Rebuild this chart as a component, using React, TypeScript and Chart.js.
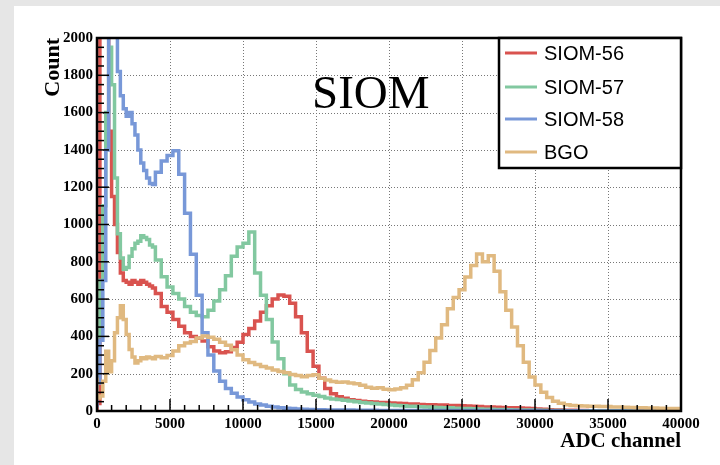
import React, { useEffect, useRef } from 'react';
import { Chart, registerables } from 'chart.js';

Chart.register(...registerables);

// ---- axis / binning ----
const X_MIN = 0;
const X_MAX = 40000;
const Y_MIN = 0;
const Y_MAX = 2000;
const X_MAJOR_STEP = 5000;
const X_MINOR_STEP = 1000;
const Y_MAJOR_STEP = 200;
const Y_MINOR_STEP = 50;
const FINE_BIN_WIDTH = 200; // 0 .. 4000
const FINE_RANGE_END = 4000;
const COARSE_BIN_WIDTH = 400; // 4000 .. 40000

const SERIES_NAMES = ['SIOM-56', 'SIOM-57', 'SIOM-58', 'BGO'];
const SERIES_COLORS = ['#d9534f', '#82c8a0', '#7898d8', '#e0b980'];

// ---- histogram contents (counts per bin) ----
// fine bins: 0-200, 200-400, ..., 3800-4000
const siom56Fine = [0, 40, 3000, 8000, 4000, 1500, 1150, 1000, 850, 740, 700, 690, 680, 700, 690, 680, 700, 690, 680, 670];
const siom57Fine = [150, 400, 700, 1100, 1600, 1950, 1750, 1250, 950, 820, 760, 770, 830, 870, 900, 910, 940, 930, 920, 890];
const siom58Fine = [20, 150, 380, 700, 1400, 2400, 2600, 2050, 1820, 1690, 1620, 1580, 1600, 1540, 1480, 1400, 1330, 1290, 1250, 1220];
const bgoFine = [180, 70, 80, 160, 320, 210, 270, 420, 500, 565, 490, 410, 330, 290, 258, 270, 285, 280, 290, 285];

// coarse bins: 4000-4400, 4400-4800, ..., 39600-40000
const siom56Coarse = [
  660, 630, 560, 530, 490, 455, 420, 400, 390, 375,
  345, 322, 312, 318, 340, 368, 410, 442, 482, 530,
  565, 600, 622, 615, 578, 505, 420, 320, 240, 175,
  120, 92, 76, 68, 60, 56, 52, 50, 48, 46,
  45, 43, 41, 40, 38, 37, 35, 34, 34, 32,
  32, 30, 29, 28, 27, 25, 24, 22, 21, 20,
  19, 18, 17, 16, 15, 13, 11, 9, 7, 6,
  5, 4, 4, 3, 3, 2, 2, 2, 2, 1,
  1, 1, 1, 1, 1, 1, 1, 1, 1, 1,
];
const siom57Coarse = [
  880, 810, 720, 665, 630, 600, 560, 530, 512, 505,
  540, 590, 650, 725, 830, 880, 900, 960, 740, 620,
  490, 370, 280, 200, 140, 115, 102, 92, 85, 78,
  70, 65, 62, 58, 54, 50, 46, 43, 40, 38,
  35, 32, 30, 28, 26, 25, 23, 22, 20, 19,
  18, 17, 15, 14, 13, 12, 11, 10, 9, 8,
  8, 7, 6, 6, 5, 5, 4, 4, 3, 3,
  3, 2, 2, 2, 2, 1, 1, 1, 1, 1,
  1, 1, 1, 0, 0, 0, 0, 0, 0, 0,
];
const siom58Coarse = [
  1215, 1280, 1340, 1370, 1395, 1270, 1060, 840, 620, 420,
  300, 215, 160, 120, 95, 75, 60, 48, 38, 32,
  26, 22, 18, 15, 13, 11, 9, 8, 7, 7,
  6, 6, 5, 5, 5, 4, 4, 4, 4, 3,
  3, 3, 3, 3, 3, 3, 3, 3, 3, 3,
  3, 3, 3, 3, 3, 3, 3, 3, 3, 3,
  3, 3, 3, 3, 2, 3, 3, 2, 2, 2,
  2, 1, 1, 1, 0, 0, 0, 0, 0, 0,
  0, 0, 0, 0, 0, 0, 0, 0, 0, 0,
];
const bgoCoarse = [
  280, 292, 285, 298, 322, 350, 365, 372, 392, 402,
  395, 385, 368, 352, 328, 300, 275, 260, 250, 238,
  230, 220, 212, 205, 196, 190, 184, 190, 195, 176,
  166, 158, 154, 155, 150, 146, 138, 127, 122, 124,
  117, 114, 118, 124, 138, 168, 205, 262, 325, 392,
  462, 548, 608, 650, 718, 780, 842, 800, 832, 750,
  640, 540, 450, 350, 262, 182, 140, 100, 72, 52,
  42, 34, 30, 28, 27, 26, 25, 24, 24, 22,
  21, 20, 19, 18, 17, 16, 16, 15, 14, 13,
];

const SERIES_VALUES = [
  [...siom56Fine, ...siom56Coarse],
  [...siom57Fine, ...siom57Coarse],
  [...siom58Fine, ...siom58Coarse],
  [...bgoFine, ...bgoCoarse],
];

const binStarts: number[] = [];
for (let x = X_MIN; x < FINE_RANGE_END; x += FINE_BIN_WIDTH) binStarts.push(x);
for (let x = FINE_RANGE_END; x < X_MAX; x += COARSE_BIN_WIDTH) binStarts.push(x);

function toSteps(values: number[]) {
  const pts = binStarts.map((x, i) => ({ x, y: values[i] }));
  pts.push({ x: X_MAX, y: values[values.length - 1] });
  return pts;
}

const SERIF = '"Liberation Serif", "Times New Roman", serif';
const SANS = '"Liberation Sans", Arial, sans-serif';

const decorPlugin = {
  id: 'rootDecor',
  beforeDatasetsDraw(chart: any) {
    const { ctx, chartArea, scales } = chart;
    const { left, right, top, bottom } = chartArea;
    ctx.save();
    ctx.strokeStyle = '#777';
    ctx.lineWidth = 1;
    ctx.setLineDash([1, 2]);
    for (let v = X_MIN + X_MAJOR_STEP; v < X_MAX; v += X_MAJOR_STEP) {
      const px = Math.round(scales.x.getPixelForValue(v)) + 0.5;
      ctx.beginPath();
      ctx.moveTo(px, top);
      ctx.lineTo(px, bottom);
      ctx.stroke();
    }
    for (let v = Y_MIN + Y_MAJOR_STEP; v < Y_MAX; v += Y_MAJOR_STEP) {
      const py = Math.round(scales.y.getPixelForValue(v)) + 0.5;
      ctx.beginPath();
      ctx.moveTo(left, py);
      ctx.lineTo(right, py);
      ctx.stroke();
    }
    ctx.restore();
  },
  afterDatasetsDraw(chart: any) {
    const { ctx, chartArea, scales } = chart;
    const { left, right, top, bottom } = chartArea;
    ctx.save();
    // inner ticks
    ctx.strokeStyle = '#000';
    ctx.lineWidth = 1.5;
    for (let v = X_MIN; v <= X_MAX; v += X_MINOR_STEP) {
      const px = scales.x.getPixelForValue(v);
      const len = v % X_MAJOR_STEP === 0 ? 12 : 6;
      ctx.beginPath();
      ctx.moveTo(px, bottom);
      ctx.lineTo(px, bottom - len);
      ctx.stroke();
    }
    for (let v = Y_MIN; v <= Y_MAX; v += Y_MINOR_STEP) {
      const py = scales.y.getPixelForValue(v);
      const len = v % Y_MAJOR_STEP === 0 ? 12 : 7;
      ctx.beginPath();
      ctx.moveTo(left, py);
      ctx.lineTo(left + len, py);
      ctx.stroke();
    }
    // frame
    ctx.lineWidth = 2.5;
    ctx.strokeRect(left, top, right - left, bottom - top);

    // big label
    ctx.fillStyle = '#000';
    ctx.font = `47px ${SERIF}`;
    ctx.textBaseline = 'alphabetic';
    ctx.textAlign = 'left';
    ctx.fillText('SIOM', 298, 102);

    // legend
    const lx = 485, ly = top, lw = right - 485, lh = 130;
    ctx.fillStyle = '#fff';
    ctx.fillRect(lx, ly, lw, lh);
    ctx.strokeStyle = '#000';
    ctx.lineWidth = 2.5;
    ctx.strokeRect(lx, ly, lw, lh);
    const rows = [47, 81, 113, 146];
    ctx.font = `20px ${SANS}`;
    ctx.textBaseline = 'middle';
    SERIES_NAMES.forEach((name, i) => {
      ctx.strokeStyle = SERIES_COLORS[i];
      ctx.lineWidth = 3;
      ctx.beginPath();
      ctx.moveTo(491, rows[i]);
      ctx.lineTo(523, rows[i]);
      ctx.stroke();
      ctx.fillStyle = '#000';
      ctx.fillText(name, 530, rows[i] + 1);
    });
    ctx.restore();
  },
};

export default function App() {
  const ref = useRef<HTMLCanvasElement>(null);
  useEffect(() => {
    const canvas = ref.current;
    if (!canvas) return;
    const chart = new Chart(canvas, {
      type: 'line',
      data: {
        datasets: SERIES_NAMES.map((name, i) => ({
          label: name,
          data: toSteps(SERIES_VALUES[i]),
          borderColor: SERIES_COLORS[i],
          backgroundColor: SERIES_COLORS[i],
          borderWidth: 3.5,
          pointRadius: 0,
          stepped: 'after' as const,
          fill: false,
          order: SERIES_NAMES.length - i,
        })),
      },
      options: {
        responsive: false,
        animation: false,
        devicePixelRatio: 1,
        parsing: false,
        layout: { padding: { left: 0, top: 32, right: 39, bottom: 0 } },
        plugins: {
          legend: { display: false },
          tooltip: { enabled: false },
        },
        scales: {
          x: {
            type: 'linear',
            min: X_MIN,
            max: X_MAX,
            afterFit: (s: any) => { s.height = 54; },
            grid: { display: false, drawTicks: false },
            border: { display: false },
            ticks: {
              stepSize: X_MAJOR_STEP,
              padding: 4,
              color: '#000',
              maxRotation: 0,
              autoSkip: false,
              callback: (v: any) => String(v),
              font: { family: SERIF, size: 15, weight: 'bold' },
            },
            title: {
              display: true,
              text: 'ADC channel',
              align: 'end',
              color: '#000',
              font: { family: SERIF, size: 21, weight: 'bold' },
              padding: { top: 0, bottom: 11 },
            },
          },
          y: {
            type: 'linear',
            min: Y_MIN,
            max: Y_MAX,
            afterFit: (s: any) => { s.width = 83; },
            grid: { display: false, drawTicks: false },
            border: { display: false },
            ticks: {
              stepSize: Y_MAJOR_STEP,
              padding: 4,
              color: '#000',
              autoSkip: false,
              callback: (v: any) => String(v),
              font: { family: SERIF, size: 15, weight: 'bold' },
            },
            title: {
              display: true,
              text: 'Count',
              align: 'end',
              color: '#000',
              font: { family: SERIF, size: 22, weight: 'bold' },
              padding: { top: 26, bottom: 0 },
            },
          },
        },
      } as any,
      plugins: [decorPlugin],
    });
    return () => chart.destroy();
  }, []);

  return (
    <div style={{ position: 'fixed', left: 0, top: 0, width: 720, height: 465, background: '#e6e6e6' }}>
      <div style={{ position: 'absolute', left: 14, top: 6, width: 706, height: 459, background: '#fff' }}>
        <canvas ref={ref} width={706} height={459} style={{ display: 'block', width: 706, height: 459 }} />
      </div>
    </div>
  );
}
